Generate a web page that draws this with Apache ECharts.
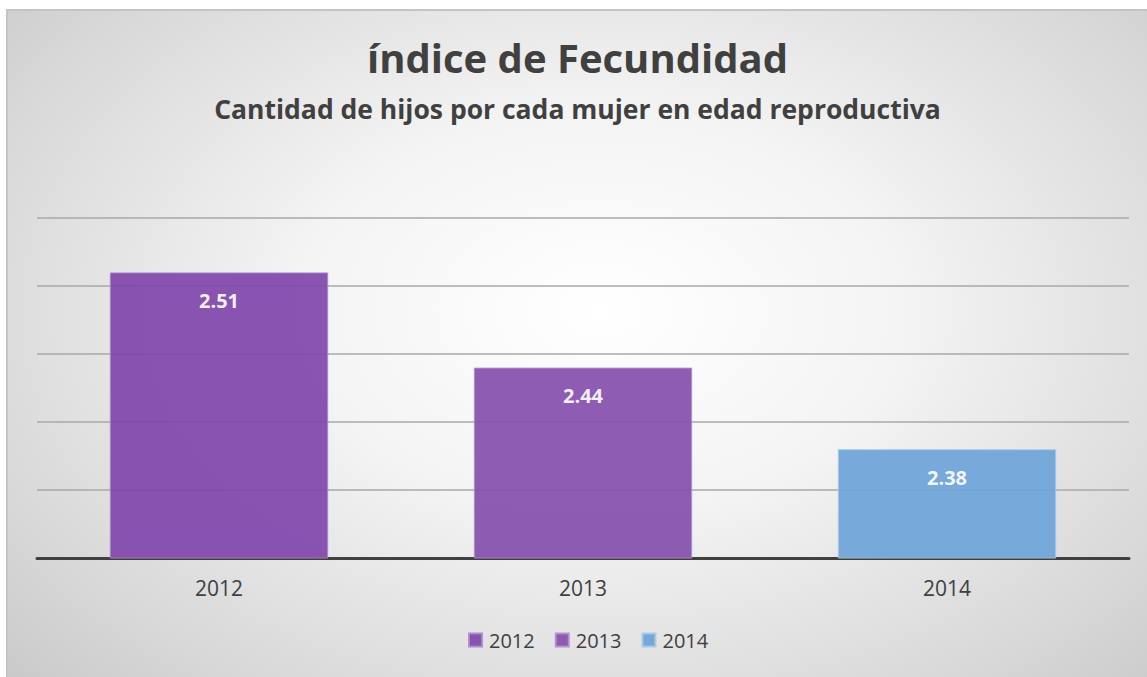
<!DOCTYPE html>
<html>
<head>
<meta charset="utf-8">
<script src="https://cdn.jsdelivr.net/npm/echarts@6/dist/echarts.min.js"></script>
<style>
  html, body { margin: 0; padding: 0; background: #fff; }
  #frame {
    position: absolute; left: 6px; top: 9px;
    width: 1139px; height: 666px;
    border-top: 2px solid #c4c4c4; border-left: 2px solid #c4c4c4;
    background: radial-gradient(ellipse 75% 85% at 52% 45%, #ffffff 0%, #f4f4f4 35%, #d9d9d9 75%, #c6c6c6 100%);
  }
  #box { width: 1139px; height: 666px; }
</style>
</head>
<body>
<div id="frame"><div id="box"></div></div>
<script>
// categorias y valores
let years = ["2012", "2013", "2014"];
let v2012 = [2.51, "-", "-"];
let v2013 = ["-", 2.44, "-"];
let v2014 = ["-", "-", 2.38];

let font = "Open Sans";
let chart = echarts.init(document.getElementById("box"), null, { renderer: "svg" });

function serie(name, data, color, edge) {
  return {
    type: "bar",
    name: name,
    stack: "total",
    data: data,
    barWidth: "60%",
    itemStyle: { color: color, borderColor: edge, borderWidth: 1, opacity: 0.92 },
    label: {
      show: true,
      position: "insideTop",
      distance: 18,
      color: "#fff",
      fontWeight: "bold",
      fontSize: 20,
      fontFamily: font,
      formatter: p => p.value.toFixed(2)
    }
  };
}

let option = {
  textStyle: { fontFamily: font },
  title: [
    {
      text: "índice de Fecundidad",
      left: "center",
      top: 21,
      textStyle: { fontSize: 40, fontWeight: "bold", color: "#404040", fontFamily: font }
    },
    {
      text: "Cantidad de hijos por cada mujer en edad reproductiva",
      left: "center",
      top: 79,
      textStyle: { fontSize: 26.5, fontWeight: "bold", color: "#404040", fontFamily: font }
    }
  ],
  legend: {
    bottom: 22,
    left: 455,
    icon: "rect",
    itemWidth: 13,
    itemHeight: 13,
    itemGap: 20,
    textStyle: { fontSize: 20, color: "#404040", fontFamily: font, padding: [0, 0, 0, 2] },
    data: years
  },
  grid: { left: 29, top: 207, width: 1092, height: 340 },
  xAxis: {
    type: "category",
    data: years,
    axisLine: { lineStyle: { color: "#404040", width: 3 } },
    axisTick: { show: false },
    axisLabel: { fontSize: 21, color: "#404040", margin: 19, fontFamily: font }
  },
  yAxis: {
    type: "value",
    min: 2.3,
    max: 2.55,
    interval: 0.05,
    axisLabel: { show: false },
    axisLine: { show: false },
    splitLine: { lineStyle: { color: "#a8a8a8", width: 1.5 } }
  },
  series: [
    serie("2012", v2012, "#7f47aa", "#a98acb"),
    serie("2013", v2013, "#844fad", "#ae90cd"),
    serie("2014", v2014, "#6ca3d8", "#a9c9ea")
  ]
};

chart.setOption(option);
</script>
</body>
</html>
